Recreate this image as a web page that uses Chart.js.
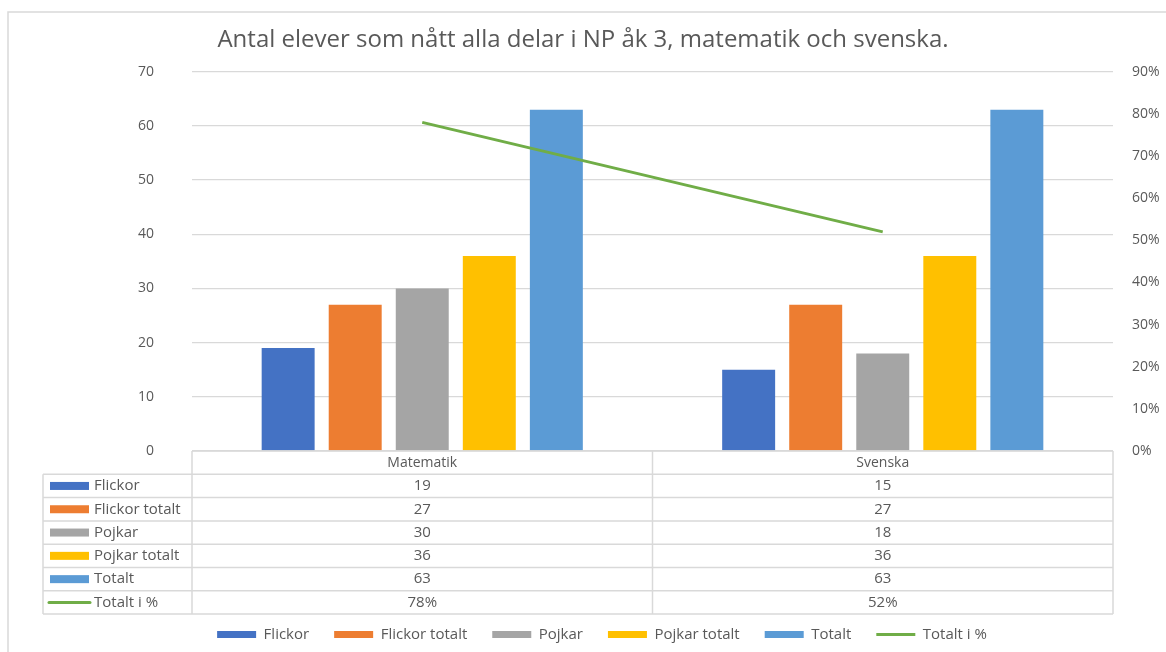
<!DOCTYPE html>
<html>
<head>
<meta charset="utf-8">
<script src="https://cdn.jsdelivr.net/npm/chart.js@4/dist/chart.umd.min.js"></script>
<style>
  html, body { margin: 0; padding: 0; background: #fff; }
  #wrap { width: 1166px; height: 652px; }
</style>
</head>
<body>
<div id="wrap"><canvas id="npChart"></canvas></div>
<script>
// ämnen och resultat
const amnen = ['Matematik', 'Svenska'];
const flickor = [19, 15];
const flickorTotalt = [27, 27];
const pojkar = [30, 18];
const pojkarTotalt = [36, 36];
const totalt = [63, 63];
const totaltProcent = [0.78, 0.52];

const leftTicks = { min: 0, max: 70, step: 10 };
const rightTicks = { min: 0, max: 0.9, step: 0.1 };

const GRID = '#d9d9d9';
const TEXT = '#595959';

Chart.defaults.font.family = "'Open Sans', sans-serif";
Chart.defaults.color = TEXT;

const pct = v => Math.round(v * 100) + '%';

// ram runt diagrammet (bara övre och vänster kant syns)
const frame = {
    id: 'frame',
    beforeDraw(chart) {
        const ctx = chart.ctx;
        ctx.save();
        ctx.strokeStyle = GRID;
        ctx.lineWidth = 1.5;
        ctx.beginPath();
        ctx.moveTo(8, chart.height);
        ctx.lineTo(8, 12);
        ctx.lineTo(chart.width, 12);
        ctx.stroke();
        ctx.restore();
    }
};

// förklaringen centreras mot hela ramen, som är bredare än duken
const legendShift = {
    id: 'legendShift',
    afterLayout(chart) {
        const lg = chart.legend;
        if (lg) {
            lg.left += 19;
            lg.right += 19;
        }
    }
};

// datatabell under x-axeln
const dataTable = {
    id: 'dataTable',
    afterDraw(chart) {
        const ctx = chart.ctx;
        const area = chart.chartArea;
        const x = chart.scales.x;
        const rowH = 23.3;
        const top = area.bottom;
        const labelLeft = 43;
        const datasets = chart.data.datasets;
        const bottom = top + rowH * (datasets.length + 1);
        const mid = (x.getPixelForValue(0) + x.getPixelForValue(1)) / 2;

        ctx.save();
        ctx.strokeStyle = GRID;
        ctx.lineWidth = 1.5;
        ctx.beginPath();
        // rubrikrad
        ctx.moveTo(area.left, top);
        ctx.lineTo(area.right, top);
        for (let r = 1; r <= datasets.length + 1; r++) {
            const y = top + rowH * r;
            ctx.moveTo(labelLeft, y);
            ctx.lineTo(area.right, y);
        }
        [area.left, mid, area.right].forEach(px => {
            ctx.moveTo(px, top);
            ctx.lineTo(px, bottom);
        });
        ctx.moveTo(labelLeft, top + rowH);
        ctx.lineTo(labelLeft, bottom);
        ctx.stroke();

        ctx.fillStyle = TEXT;
        ctx.textBaseline = 'middle';
        ctx.textAlign = 'center';
        ctx.font = "14px 'Open Sans', sans-serif";
        chart.data.labels.forEach((lab, i) => {
            ctx.fillText(lab, x.getPixelForValue(i), top + rowH / 2);
        });

        datasets.forEach((ds, d) => {
            const cy = top + rowH * (d + 1.5);
            // symbol + serienamn
            if (ds.type === 'line') {
                ctx.strokeStyle = ds.borderColor;
                ctx.lineWidth = 3;
                ctx.lineCap = 'round';
                ctx.beginPath();
                ctx.moveTo(49, cy);
                ctx.lineTo(90, cy);
                ctx.stroke();
            } else {
                ctx.fillStyle = ds.backgroundColor;
                ctx.fillRect(50, cy - 4, 39, 8);
            }
            ctx.fillStyle = TEXT;
            ctx.textAlign = 'left';
            ctx.font = "15px 'Open Sans', sans-serif";
            ctx.fillText(ds.label, 94, cy);

            ctx.textAlign = 'center';
            ds.data.forEach((v, i) => {
                const txt = ds.type === 'line' ? pct(v) : String(v);
                ctx.fillText(txt, x.getPixelForValue(i), cy);
            });
        });
        ctx.restore();
    }
};

const barDs = (label, data, color) => ({
    label: label,
    data: data,
    backgroundColor: color,
    borderWidth: 0,
    pointStyle: 'rect',
    yAxisID: 'y',
    order: 1,
    categoryPercentage: 0.728,
    barPercentage: 0.79
});

new Chart(document.getElementById('npChart'), {
    type: 'bar',
    data: {
        labels: amnen,
        datasets: [
            barDs('Flickor', flickor, '#4472C4'),
            barDs('Flickor totalt', flickorTotalt, '#ED7D31'),
            barDs('Pojkar', pojkar, '#A5A5A5'),
            barDs('Pojkar totalt', pojkarTotalt, '#FFC000'),
            barDs('Totalt', totalt, '#5B9BD5'),
            {
                type: 'line',
                label: 'Totalt i %',
                data: totaltProcent,
                borderColor: '#70AD47',
                backgroundColor: '#70AD47',
                borderWidth: 3,
                pointRadius: 0,
                pointStyle: 'line',
                yAxisID: 'y1',
                order: 0
            }
        ]
    },
    options: {
        responsive: true,
        maintainAspectRatio: false,
        animation: false,
        layout: { padding: { top: 12, left: 0, right: 0, bottom: 0 } },
        plugins: {
            title: {
                display: true,
                text: 'Antal elever som nått alla delar i NP åk 3, matematik och svenska.',
                color: TEXT,
                font: { size: 24, weight: 'normal' },
                padding: { top: 14, bottom: 17 }
            },
            legend: {
                position: 'bottom',
                labels: {
                    usePointStyle: true,
                    pointStyleWidth: 39,
                    boxHeight: 7,
                    padding: 25,
                    color: TEXT,
                    font: { size: 15 },
                    sort: (a, b) => a.datasetIndex - b.datasetIndex
                }
            },
            tooltip: { enabled: false }
        },
        scales: {
            x: {
                grid: { display: false },
                border: { display: false },
                ticks: { display: false },
                afterFit: s => { s.height = 151; }
            },
            y: {
                position: 'left',
                min: leftTicks.min,
                max: leftTicks.max,
                grid: { color: GRID, lineWidth: 1.3, drawTicks: false },
                border: { display: false },
                ticks: { stepSize: leftTicks.step, padding: 38, font: { size: 14 }, color: TEXT },
                afterFit: s => { s.width = 192; }
            },
            y1: {
                position: 'right',
                min: rightTicks.min,
                max: rightTicks.max,
                grid: { display: false, drawTicks: false },
                border: { display: false },
                ticks: { stepSize: rightTicks.step, padding: 19, font: { size: 14 }, color: TEXT, callback: v => pct(v) },
                afterFit: s => { s.width = 53; }
            }
        }
    },
    plugins: [frame, legendShift, dataTable]
});
</script>
</body>
</html>
